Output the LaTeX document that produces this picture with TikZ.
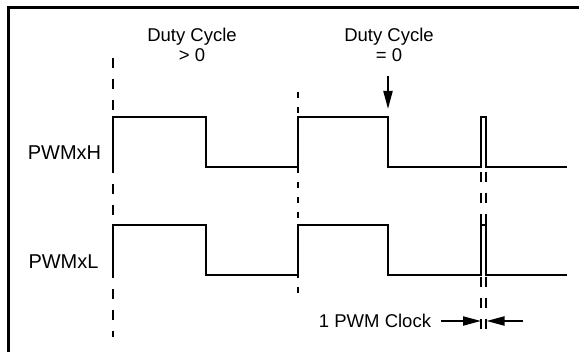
\documentclass[tikz,border=0pt]{standalone}
\usepackage{fontspec}
\setmainfont{Liberation Sans}
\usepackage{tikz}
\usetikzlibrary{arrows.meta, positioning}

\begin{document}
\begin{tikzpicture}[x=1pt, y=-1pt]
  \tikzstyle{label} = [inner sep=0pt, font={\fontsize{18.5}{20}\selectfont}]
  \tikzstyle{signal} = [inner sep=0pt, font={\fontsize{20}{22}\selectfont}]
  \tikzstyle{duty} = [label, align=center]
  \tikzstyle{wave} = [black, line width=2pt, line join=miter]
  \tikzstyle{frame} = [black, line width=2.8pt]
  \tikzstyle{dashLong} = [black, line width=2pt, dash pattern=on 10pt off 11pt]
  \tikzstyle{dashShort} = [black, line width=2pt, dash pattern=on 6pt off 9pt]
  \tikzstyle{pointer} = [black, line width=2pt, -{Triangle[length=18pt, width=9pt]}]

  \useasboundingbox (0,0) rectangle (579,352);
  \draw[frame] (8.7,352) -- (8.7,7.5) -- (579,7.5);

	% labels
	\node[duty](dcPos) at (192,45) {Duty Cycle\\> 0};
	\node[duty](dcZero) at (389,45) {Duty Cycle\\= 0};
	\node[signal](pwmH) at (64.5,153) {PWMxH};
	\node[signal](pwmL) at (63.5,262) {PWMxL};
	\node[label](clk) at (375,321) {1 PWM Clock};

	% edge markers
	\draw[dashLong] (113,58) -- (113,337);
	\draw[dashShort] (298,92) -- (298,300);
	\draw[dashLong] (481,172) -- (481,337);
	\draw[dashLong] (486,172) -- (486,337);

	% waveforms
	\foreach \dy in {0,107.5}
	  \draw[wave, yshift=-\dy pt] (113,170) -- (113,117.5) -- (206,117.5) -- (206,167.5)
	    -- (298,167.5) (298,170) -- (298,117.5) -- (388,117.5) -- (388,167.5)
	    -- (481,167.5) -- (481,117.5) -- (486,117.5) -- (486,167.5) -- (567,167.5);

	% pointers
	\coordinate (dcTail) at (388,76);
	\coordinate (dcHead) at (388,109);
	\draw[pointer] (dcTail) -- (dcHead);
	\coordinate (clkLeft) at (481,321);
	\coordinate (clkRight) at (486.5,321);
	\coordinate (clkEnd) at (523,321);
	\draw[pointer] (clk.east) ++(10,0) -- (clkLeft);
	\draw[pointer] (clkEnd) -- (clkRight);
\end{tikzpicture}
\end{document}
